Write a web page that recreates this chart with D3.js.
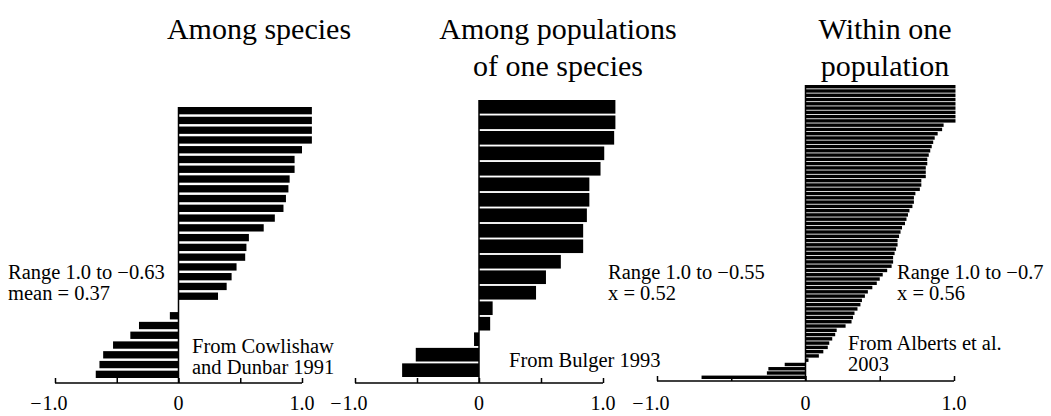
<!DOCTYPE html>
<html lang="en">
	<head>
		<meta charset="utf-8">
		<title>Correlation ranges</title>
		<script src="https://d3js.org/d3.v7.min.js"></script>
		<style>
			body { margin: 0; background: #fff; }
			text { font-family: "Liberation Serif", "Times New Roman", serif; fill: #000; }
		</style>
	</head>
	<body>
		<script type="text/javascript">

			//    Data (correlation values, top to bottom)
			var speciesR = [1.08, 1.08, 1.08, 1.08, 1.0, 0.94, 0.94, 0.90, 0.89, 0.87,
				0.85, 0.78, 0.69, 0.57, 0.55, 0.54, 0.47, 0.43, 0.39, 0.32,
				0, -0.07, -0.32, -0.39, -0.53, -0.61, -0.64, -0.67];

			var populationsR = [1.10, 1.10, 1.09, 1.01, 0.98, 0.89, 0.89, 0.87, 0.84,
				0.84, 0.66, 0.54, 0.46, 0.11, 0.09, -0.04, -0.51, -0.62];

			var withinR = [1.01, 1.01, 1.01, 1.01, 1.01, 1.01, 1.01, 1.01, 1.01, 0.93,
				0.92, 0.89, 0.87, 0.86, 0.85, 0.84, 0.83, 0.82, 0.82, 0.81,
				0.81, 0.81, 0.78, 0.78, 0.77, 0.74, 0.73, 0.73, 0.72, 0.70,
				0.69, 0.68, 0.67, 0.65, 0.64, 0.63, 0.62, 0.62, 0.61, 0.60,
				0.59, 0.59, 0.58, 0.55, 0.52, 0.50, 0.48, 0.45, 0.42, 0.40,
				0.38, 0.37, 0.35, 0.33, 0.32, 0.31, 0.27, 0.21, 0.20, 0.18,
				0.16, 0.15, 0.12, 0.09, 0.02, -0.14, -0.25, -0.26, -0.70];

			var tickValues = [-1, -0.5, 0, 0.5, 1];
			var labelValues = [-1, 0, 1];
			var tickLabels = ["1.0", "0", "1.0"];   // minus sign for -1 is hung to the left

			var titles = [
				["Among species"],
				["Among populations", "of one species"],
				["Within one", "population"]
			];
			var rangeNotes = [
				["Range 1.0 to \u22120.63", "mean = 0.37"],
				["Range 1.0 to \u22120.55", "x = 0.52"],
				["Range 1.0 to \u22120.7", "x = 0.56"]
			];
			var sources = [
				["From Cowlishaw", "and Dunbar 1991"],
				["From Bulger 1993"],
				["From Alberts et al.", "2003"]
			];

			//    Layout of each panel
			var w = 1051;
			var h = 416;

			var panels = [
				{ data: speciesR, x0: 55, x1: 302, top: 107, bottom: 378, axisY: 383, pad: 0.25,
				  titleX: 259, noteX: 8, noteY: 279, srcX: 192, srcY: 353 },
				{ data: populationsR, x0: 355, x1: 603, top: 100, bottom: 377, axisY: 383, pad: 0.12,
				  titleX: 558, noteX: 608, noteY: 279, srcX: 509, srcY: 367 },
				{ data: withinR, x0: 657, x1: 954, top: 85, bottom: 379, axisY: 381, pad: 0.2,
				  titleX: 885, noteX: 897, noteY: 279, srcX: 848, srcY: 350 }
			];

			var svg = d3.select("body").append("svg").attr("width", w).attr("height", h);

			panels.forEach(function(p, k) {

				var xScale = d3.scaleLinear()
					.domain([-1, 1])
					.range([p.x0, p.x1]);

				var yScale = d3.scaleBand()
					.domain(d3.range(p.data.length))
					.range([p.top, p.bottom])
					.paddingInner(p.pad)
					.paddingOuter(0);

				var g = svg.append("g");

				//    bars
				g.selectAll("rect")
					.data(p.data)
					.enter()
					.append("rect")
					.attr("x", function(d) { return xScale(Math.min(0, d)); })
					.attr("y", function(d, i) { return yScale(i); })
					.attr("width", function(d) { return Math.abs(xScale(d) - xScale(0)); })
					.attr("height", yScale.bandwidth())
					.attr("fill", "#000");

				//    zero line
				g.append("line")
					.attr("x1", xScale(0)).attr("x2", xScale(0))
					.attr("y1", p.top).attr("y2", p.axisY)
					.attr("stroke", "#000").attr("stroke-width", 1.5);

				//    x axis: ticks point up, labels only at -1, 0, 1
				var xAxis = d3.axisTop(xScale)
					.tickValues(tickValues)
					.tickSize(5)
					.tickFormat("");

				var ax = g.append("g")
					.attr("transform", "translate(0," + p.axisY + ")")
					.call(xAxis);
				ax.select(".domain").attr("d", "M" + p.x0 + ",0H" + p.x1)
					.attr("stroke-width", 1.5);
				ax.selectAll(".tick line").attr("stroke-width", 1.5);

				var labels = g.selectAll(".tlabel")
					.data(labelValues)
					.enter()
					.append("text")
					.attr("class", "tlabel")
					.attr("x", function(d) { return xScale(d); })
					.attr("y", 410)
					.attr("text-anchor", "middle")
					.attr("font-size", 20)
					.text(function(d, i) { return tickLabels[i]; });

				//    hanging minus in front of the -1.0 label
				labels.filter(function(d) { return d < 0; }).each(function(d) {
					var half = this.getComputedTextLength() / 2;
					g.append("text")
						.attr("x", xScale(d) - half - 1)
						.attr("y", 410)
						.attr("text-anchor", "end")
						.attr("font-size", 20)
						.text("\u2212");
				});

				//    title
				titles[k].forEach(function(t, i) {
					g.append("text")
						.attr("x", p.titleX)
						.attr("y", 39 + i * 37)
						.attr("text-anchor", "middle")
						.attr("font-size", 30)
						.text(t);
				});

				//    range / mean note
				rangeNotes[k].forEach(function(t, i) {
					g.append("text")
						.attr("x", p.noteX)
						.attr("y", p.noteY + i * 21)
						.attr("font-size", 20.5)
						.text(t);
				});

				//    source note
				sources[k].forEach(function(t, i) {
					g.append("text")
						.attr("x", p.srcX)
						.attr("y", p.srcY + i * 21)
						.attr("font-size", 20.5)
						.text(t);
				});
			});

		</script>
	</body>
</html>
